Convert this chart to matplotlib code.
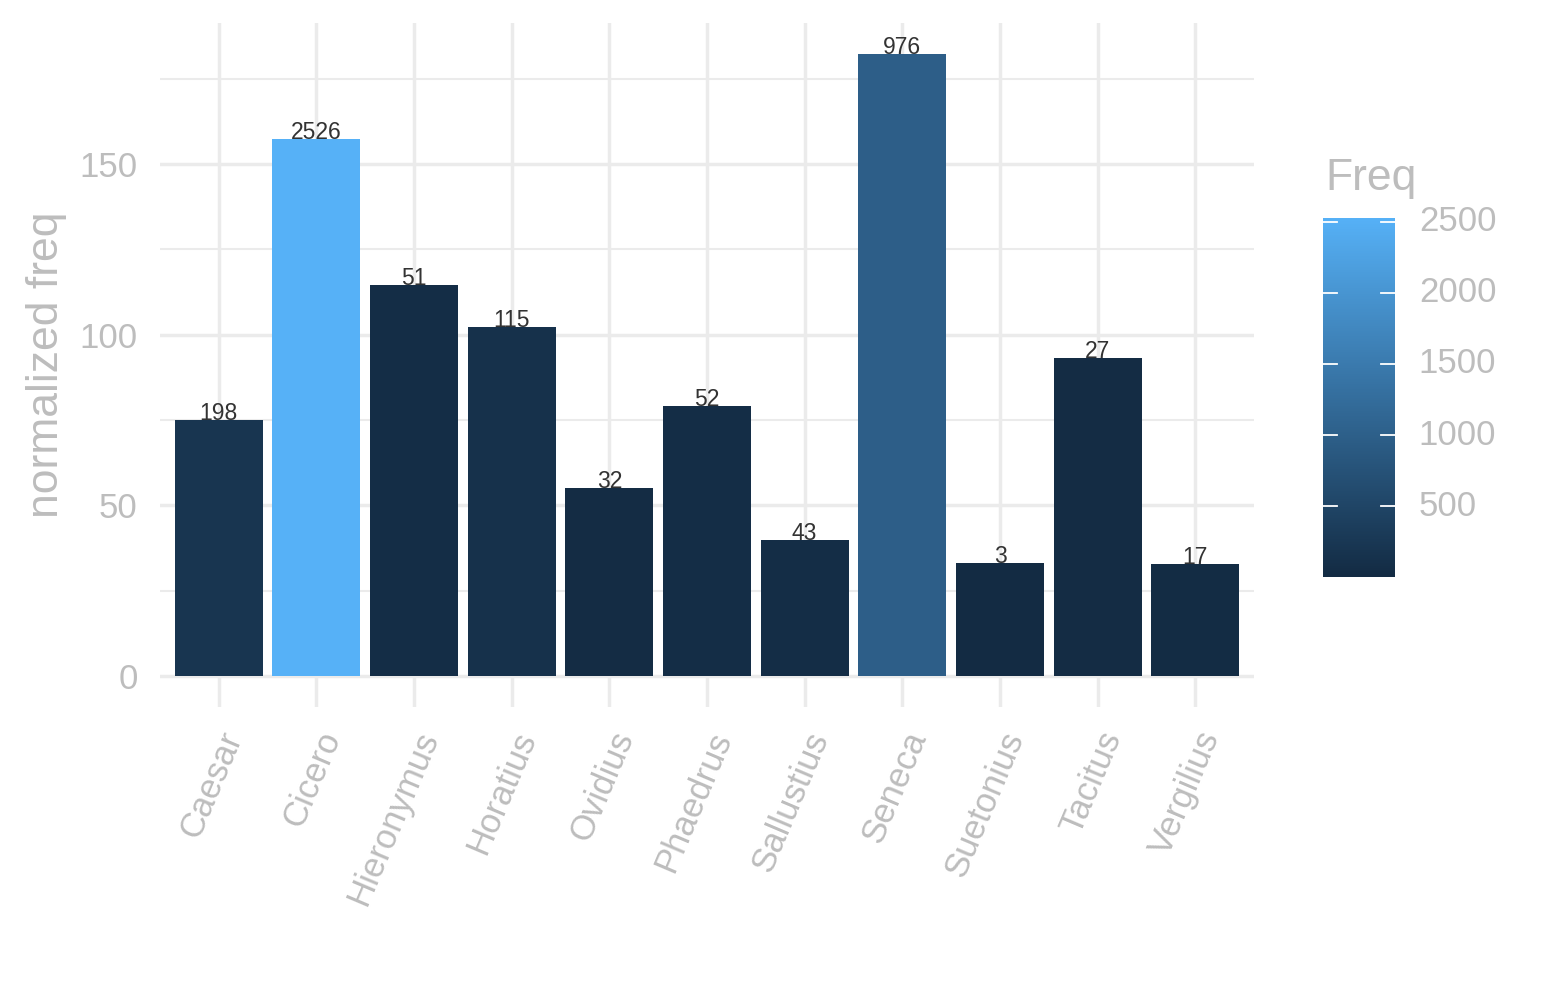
import numpy as np
import matplotlib
matplotlib.use("Agg")
import matplotlib.pyplot as plt
from matplotlib.colors import LinearSegmentedColormap, Normalize
from matplotlib.transforms import ScaledTranslation

authors = ["Caesar", "Cicero", "Hieronymus", "Horatius", "Ovidius", "Phaedrus",
           "Sallustius", "Seneca", "Suetonius", "Tacitus", "Vergilius"]
norm_freq = [75.0, 157.3, 114.6, 102.3, 55.1, 79.1, 39.8, 182.2, 33.1, 93.2, 32.8]
freq = [198, 2526, 51, 115, 32, 52, 43, 976, 3, 27, 17]
y_ticks = [0, 50, 100, 150]
y_minor = [25, 75, 125, 175]
cbar_ticks = [500, 1000, 1500, 2000, 2500]

grey = "#BDBDBD"
gridc = "#EBEBEB"
plt.rcParams['font.family'] = ['Liberation Sans', 'DejaVu Sans']

cmap = LinearSegmentedColormap.from_list("gg", ["#132B43", "#56B1F7"])
cnorm = Normalize(vmin=min(freq), vmax=max(freq))

fig = plt.figure(figsize=(15.45, 10), dpi=100)
ax = fig.add_axes([160 / 1545, 1 - 707 / 1000, 1094 / 1545, 684 / 1000])

x = np.arange(len(authors))
ax.bar(x, norm_freq, width=0.9, color=cmap(cnorm(freq)), zorder=3)
for xi, v, f in zip(x, norm_freq, freq):
    ax.text(xi, v, str(f), ha='center', va='baseline', fontsize=16.5,
            color='#333333', zorder=4)

ymax = max(norm_freq)
ax.set_xlim(-0.6, len(authors) - 0.4)
ax.set_ylim(-0.05 * ymax, 1.05 * ymax)
ax.set_yticks(y_ticks)
ax.set_yticks(y_minor, minor=True)
ax.set_xticks(x)
ax.set_xticklabels(authors, rotation=67, ha='right', va='top',
                   rotation_mode='anchor')
shift = ScaledTranslation(4 / 100, -4 / 100, fig.dpi_scale_trans)
for lbl in ax.get_xticklabels():
    lbl.set_transform(lbl.get_transform() + shift)
ax.grid(True, which='major', color=gridc, linewidth=2.5, zorder=0)
ax.grid(True, which='minor', axis='y', color=gridc, linewidth=1.5, zorder=0)
ax.tick_params(which='both', length=0, colors=grey, labelsize=25)
ax.tick_params(axis='y', pad=16)
ax.tick_params(axis='x', pad=14)
for s in ax.spines.values():
    s.set_visible(False)
ax.set_ylabel("normalized freq", fontsize=32, color=grey)
ax.yaxis.set_label_coords((67 - 160) / 1094, 0.5)

# colour bar
cax = fig.add_axes([1323 / 1545, 1 - 577 / 1000, 72 / 1545, 359 / 1000])
grad = np.linspace(min(freq), max(freq), 256).reshape(-1, 1)
cax.imshow(grad, aspect='auto', cmap=cmap, norm=cnorm, origin='lower',
           extent=(0, 1, min(freq), max(freq)))
cax.set_xlim(0, 1)
cax.set_ylim(min(freq), max(freq))
for t in cbar_ticks:
    cax.plot([0, 0.2], [t, t], color='white', linewidth=1.3)
    cax.plot([0.8, 1], [t, t], color='white', linewidth=1.3)
    cax.text(1.33, t, str(t), transform=cax.get_yaxis_transform(),
             ha='left', va='center', fontsize=25, color=grey)
cax.set_xticks([])
cax.set_yticks([])
for s in cax.spines.values():
    s.set_visible(False)
fig.text(1325 / 1545, 1 - 190 / 1000, "Freq", fontsize=32, color=grey,
         ha='left', va='baseline')

fig.savefig("out.png", dpi=100, facecolor='white')
